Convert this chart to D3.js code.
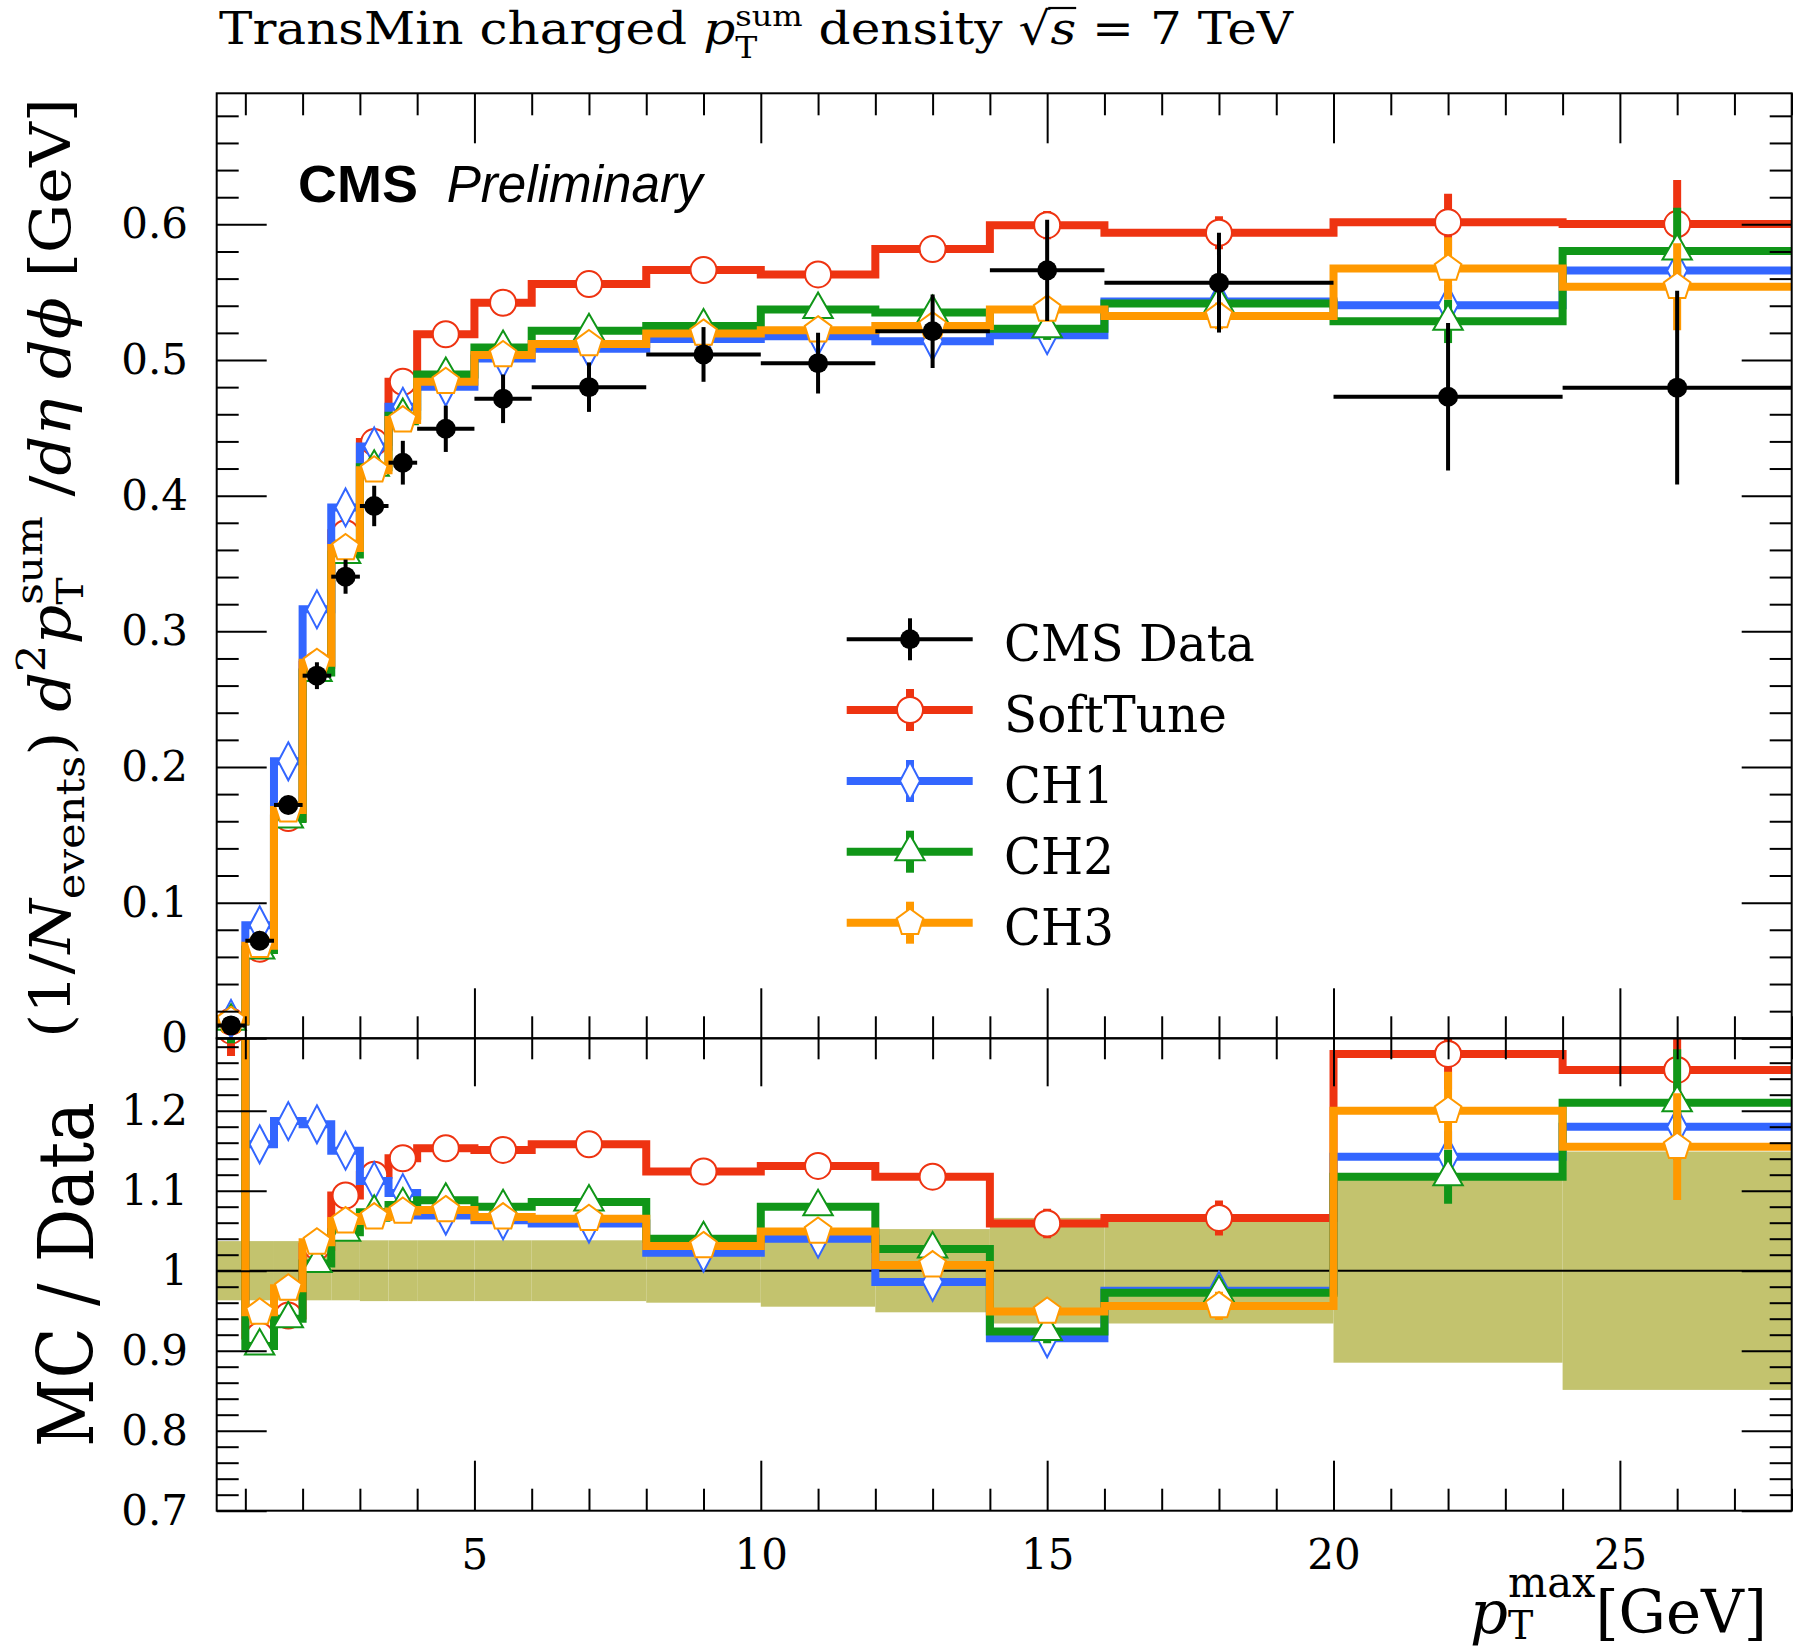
<!DOCTYPE html>
<html><head><meta charset="utf-8">
<script src="https://cdn.jsdelivr.net/npm/d3@7"></script>
<style>
html,body{margin:0;padding:0;background:#fff;}
svg{display:block;}
</style></head><body>
<svg id="chart" width="1793" height="1652"></svg>
<script>
// ---------------- DATA ----------------
const binEdges   = [0.5,1,1.5,2,2.5,3,3.5,4,5,6,8,10,12,14,16,20,24,28];
const binCenters = [0.75,1.25,1.75,2.25,2.75,3.25,3.75,4.5,5.5,7,9,11,13,15,18,22,26];

const dataValues = [0.0095,0.0719,0.172,0.2673,0.3403,0.3924,0.4243,0.4493,0.4714,0.4800,0.5041,0.4977,0.5212,0.5661,0.5570,0.4729,0.4796];
const dataRelErr = [0.037,0.037,0.037,0.037,0.037,0.038,0.038,0.038,0.038,0.038,0.040,0.045,0.052,0.066,0.066,0.115,0.149];

const softTuneValues = [0.01235,0.0660,0.1624,0.2753,0.3723,0.4395,0.4839,0.5190,0.5422,0.5560,0.5663,0.5631,0.5818,0.5994,0.5938,0.6015,0.6002];
const softTuneErr    = [0.0003,0.0008,0.0015,0.002,0.0025,0.003,0.003,0.0035,0.004,0.0035,0.004,0.0045,0.005,0.0104,0.0122,0.021,0.0324];
const softTuneRatio  = [1.30,0.919,0.944,1.03,1.094,1.120,1.1405,1.153,1.151,1.158,1.124,1.131,1.1175,1.059,1.066,1.271,1.251];

const ch1Values = [0.0143,0.0833,0.2042,0.3162,0.3913,0.4363,0.4655,0.4803,0.5011,0.5083,0.5154,0.5176,0.5139,0.5183,0.5431,0.5403,0.5659];
const ch1Err    = [0.0003,0.0008,0.0015,0.002,0.0025,0.003,0.003,0.0035,0.004,0.0035,0.004,0.0045,0.005,0.007,0.008,0.015,0.02];
const ch1Ratio  = [1.505,1.158,1.187,1.183,1.150,1.112,1.097,1.069,1.063,1.059,1.0225,1.040,0.986,0.9155,0.975,1.1425,1.180];

const ch2Values = [0.0125,0.0651,0.1617,0.2697,0.3566,0.4210,0.4590,0.4894,0.5093,0.5216,0.5250,0.5373,0.5351,0.5231,0.5417,0.5285,0.5803];
const ch2Err    = [0.0003,0.0008,0.0015,0.002,0.0025,0.003,0.003,0.0035,0.004,0.0035,0.004,0.0045,0.005,0.0083,0.009,0.016,0.032];
const ch2Ratio  = [1.316,0.906,0.940,1.009,1.048,1.073,1.082,1.088,1.080,1.086,1.040,1.080,1.027,0.924,0.9725,1.1175,1.210];

const ch3Values = [0.0130,0.0682,0.1682,0.2768,0.3614,0.4187,0.4557,0.4840,0.5037,0.5118,0.5196,0.5220,0.5250,0.5373,0.5325,0.5675,0.5540];
const ch3Err    = [0.0003,0.0008,0.0015,0.002,0.0025,0.003,0.003,0.0035,0.004,0.0035,0.004,0.0045,0.005,0.008,0.0098,0.023,0.032];
const ch3Ratio  = [1.368,0.948,0.978,1.0355,1.062,1.067,1.074,1.076,1.067,1.065,1.031,1.049,1.007,0.949,0.956,1.200,1.155];

const legendLabels = ["CMS Data","SoftTune","CH1","CH2","CH3"];

const yTicksMain = [0,0.1,0.2,0.3,0.4,0.5,0.6];
const yTickLabelsMain = ["0","0.1","0.2","0.3","0.4","0.5","0.6"];
const yTicksRatio = [0.7,0.8,0.9,1,1.1,1.2];
const yTickLabelsRatio = ["0.7","0.8","0.9","1","1.1","1.2"];
const xTicks = [5,10,15,20,25];
const xTickLabels = ["5","10","15","20","25"];

// ---------------- STYLE / LAYOUT ----------------
const W=1793, H=1652;
const L=216.7, R=1791.7, T=93.3, M=1038.3, B=1510.7;
const SERIF = "'DejaVu Serif','Liberation Serif',serif";
const SANS = "'Liberation Sans','DejaVu Sans',sans-serif";
const series = [
  {name:"SoftTune", vals:softTuneValues, errs:softTuneErr, ratio:softTuneRatio, color:"#ee3311", kind:"circle"},
  {name:"CH1", vals:ch1Values, errs:ch1Err, ratio:ch1Ratio, color:"#3366ff", kind:"diamond"},
  {name:"CH2", vals:ch2Values, errs:ch2Err, ratio:ch2Ratio, color:"#109618", kind:"triangle"},
  {name:"CH3", vals:ch3Values, errs:ch3Err, ratio:ch3Ratio, color:"#ff9900", kind:"pentagon"}
];
const bandColor = "rgb(195,195,110)";
const LINE_W = 8;

const svg = d3.select("#chart");
svg.append("rect").attr("width",W).attr("height",H).attr("fill","#fff");

const x  = d3.scaleLinear().domain([0.5,28]).range([L,R]);
const y  = d3.scaleLinear().domain([0,0.6966]).range([M,T]);
const yr = d3.scaleLinear().domain([0.7,1.2905]).range([B,M]);

const defs = svg.append("defs");
defs.append("clipPath").attr("id","clipMain").append("rect")
  .attr("x",L).attr("y",T).attr("width",R-L).attr("height",M-T);
defs.append("clipPath").attr("id","clipRatio").append("rect")
  .attr("x",L).attr("y",M).attr("width",R-L).attr("height",B-M);

const pentPts = d3.range(5).map(k=>{const a=(-90+72*k)*Math.PI/180; return [14*Math.cos(a),14*Math.sin(a)];});
function drawMarker(g, kind, cx, cy, color){
  let m;
  if(kind==="circle") m = g.append("circle").attr("r",13).attr("cx",cx).attr("cy",cy);
  else {
    let d;
    if(kind==="diamond") d="M0,-19L10,0L0,19L-10,0Z";
    else if(kind==="triangle") d="M0,-17L14.7,8.5L-14.7,8.5Z";
    else d="M"+pentPts.map(p=>p.join(",")).join("L")+"Z";
    m = g.append("path").attr("d",d).attr("transform",`translate(${cx},${cy})`);
  }
  m.attr("fill","#fff").attr("stroke",color).attr("stroke-width",2);
}

function stepPoints(vals){
  const pts = vals.map((v,i)=>[binEdges[i],v]);
  pts.push([binEdges[binEdges.length-1], vals[vals.length-1]]);
  return pts;
}

function drawSeries(parent, vals, errs, ys, color, kind){
  const g = parent.append("g");
  const line = d3.line().x(d=>x(d[0])).y(d=>ys(d[1])).curve(d3.curveStepAfter);
  g.append("path").attr("d",line(stepPoints(vals))).attr("fill","none")
    .attr("stroke",color).attr("stroke-width",LINE_W).attr("stroke-linejoin","miter");
  g.selectAll("line.err").data(vals).join("line")
    .attr("x1",(d,i)=>x(binCenters[i])).attr("x2",(d,i)=>x(binCenters[i]))
    .attr("y1",(d,i)=>ys(d-errs[i])).attr("y2",(d,i)=>ys(d+errs[i]))
    .attr("stroke",color).attr("stroke-width",LINE_W);
  vals.forEach((v,i)=>drawMarker(g,kind,x(binCenters[i]),ys(v),color));
}

// ---------------- RATIO PANEL ----------------
const gRatio = svg.append("g").attr("clip-path","url(#clipRatio)");
gRatio.selectAll("rect.band").data(dataRelErr).join("rect")
  .attr("x",(d,i)=>x(binEdges[i])).attr("width",(d,i)=>x(binEdges[i+1])-x(binEdges[i]))
  .attr("y",d=>yr(1+d)).attr("height",d=>yr(1-d)-yr(1+d))
  .attr("fill",bandColor);
gRatio.append("line").attr("x1",L).attr("x2",R).attr("y1",yr(1)).attr("y2",yr(1))
  .attr("stroke","#000").attr("stroke-width",2);
series.forEach(s=>{
  const rErr = s.errs.map((e,i)=>e/dataValues[i]);
  drawSeries(gRatio, s.ratio, rErr, yr, s.color, s.kind);
});

// ---------------- MAIN PANEL ----------------
const gMain = svg.append("g").attr("clip-path","url(#clipMain)");
series.forEach(s=>drawSeries(gMain, s.vals, s.errs, y, s.color, s.kind));
const gData = gMain.append("g");
dataValues.forEach((v,i)=>{
  const e = v*dataRelErr[i];
  gData.append("line").attr("x1",x(binEdges[i])).attr("x2",x(binEdges[i+1]))
    .attr("y1",y(v)).attr("y2",y(v)).attr("stroke","#000").attr("stroke-width",4);
  gData.append("line").attr("x1",x(binCenters[i])).attr("x2",x(binCenters[i]))
    .attr("y1",y(v-e)).attr("y2",y(v+e)).attr("stroke","#000").attr("stroke-width",4);
  gData.append("circle").attr("cx",x(binCenters[i])).attr("cy",y(v)).attr("r",10).attr("fill","#000");
});

// ---------------- AXES ----------------
const minorMain = d3.range(0.02,0.69,0.02).filter(v=>Math.abs(v*10-Math.round(v*10))>1e-6);
const minorRatio = d3.range(0.72,1.29,0.02).filter(v=>Math.abs(v*10-Math.round(v*10))>1e-6);
const minorX = d3.range(1,29,1).filter(v=>v%5!==0);

function addAxis(gen, tr, vals, size, fmt, pad){
  const g = svg.append("g").attr("transform",tr)
    .call(gen.tickValues(vals).tickSize(size).tickPadding(pad||0).tickFormat(fmt||(()=>"")));
  g.select(".domain").remove();
  g.selectAll("line").attr("stroke","#000").attr("stroke-width",2);
  g.attr("font-family",SERIF).attr("font-size",42);
  g.selectAll("text").attr("fill","#000");
  return g;
}
// main panel
addAxis(d3.axisLeft(y), `translate(${L},0)`, yTicksMain, -50, (d,i)=>yTickLabelsMain[i], 28.7);
addAxis(d3.axisLeft(y), `translate(${L},0)`, minorMain, -22);
addAxis(d3.axisRight(y), `translate(${R},0)`, yTicksMain, -50);
addAxis(d3.axisRight(y), `translate(${R},0)`, minorMain, -22);
addAxis(d3.axisTop(x), `translate(0,${T})`, xTicks, -50);
addAxis(d3.axisTop(x), `translate(0,${T})`, minorX, -22);
addAxis(d3.axisBottom(x), `translate(0,${M})`, xTicks, -50);
addAxis(d3.axisBottom(x), `translate(0,${M})`, minorX, -22);
// ratio panel
addAxis(d3.axisLeft(yr), `translate(${L},0)`, yTicksRatio, -50, (d,i)=>yTickLabelsRatio[i], 28.7);
addAxis(d3.axisLeft(yr), `translate(${L},0)`, minorRatio, -22);
addAxis(d3.axisRight(yr), `translate(${R},0)`, yTicksRatio, -50);
addAxis(d3.axisRight(yr), `translate(${R},0)`, minorRatio, -22);
addAxis(d3.axisTop(x), `translate(0,${M})`, xTicks, -48);
addAxis(d3.axisTop(x), `translate(0,${M})`, minorX, -21);
addAxis(d3.axisBottom(x), `translate(0,${B})`, xTicks, -50, (d,i)=>xTickLabels[i], 28.5);
addAxis(d3.axisBottom(x), `translate(0,${B})`, minorX, -22);

// frames
svg.append("rect").attr("x",L).attr("y",T).attr("width",R-L).attr("height",M-T)
  .attr("fill","none").attr("stroke","#000").attr("stroke-width",2);
svg.append("rect").attr("x",L).attr("y",M).attr("width",R-L).attr("height",B-M)
  .attr("fill","none").attr("stroke","#000").attr("stroke-width",2);

// ---------------- RICH TEXT ----------------
function layoutRuns(parent, runs, font){
  const g = parent.append("g");
  let cx = 0;
  runs.forEach(r=>{
    const items = r.stack || [r];
    let w = 0;
    items.forEach(s=>{
      const fs = s.size || font.size;
      const t = g.append("text").attr("x",cx).attr("y",s.dy||0)
        .attr("font-size",fs).attr("font-family",s.family||font.family)
        .attr("font-style",s.italic?"italic":"normal")
        .attr("font-weight",s.bold?"bold":"normal")
        .attr("fill","#000").style("white-space","pre").text(s.t);
      const tw = t.node().getComputedTextLength();
      if(s.overline){
        g.append("line").attr("x1",cx-2).attr("x2",cx+tw).attr("y1",-fs*0.80).attr("y2",-fs*0.80)
          .attr("stroke","#000").attr("stroke-width",2.2);
      }
      w = Math.max(w,tw);
    });
    cx += w;
  });
  return {g, width:cx};
}
function placeRuns(runs, font, tx, ty, targetW, rot){
  const outer = svg.append("g").attr("transform",`translate(${tx},${ty})`+(rot?` rotate(${rot})`:""));
  const {g,width} = layoutRuns(outer, runs, font);
  const sx = targetW ? targetW/width : 1;
  g.attr("transform",`scale(${sx},1)`);
  return sx;
}

// title
{
  const F=45;
  placeRuns([
    {t:"TransMin charged "},
    {t:"p", italic:true},
    {stack:[{t:"T", size:F*0.66, dy:F*0.30},{t:"sum", size:F*0.64, dy:-F*0.40}]},
    {t:" density "},
    {t:"\u221A"},
    {t:"s", italic:true, overline:true},
    {t:" = 7 TeV"}
  ], {size:F, family:SERIF}, 219, 44, 1074);
}
// y label main
{
  const F=56;
  placeRuns([
    {t:"(1/"},
    {t:"N", italic:true},
    {t:"events", size:F*0.7, dy:F*0.25},
    {t:") "},
    {t:"d", italic:true},
    {t:"2", size:F*0.7, dy:-F*0.45},
    {t:"p", italic:true},
    {stack:[{t:"T", size:F*0.66, dy:F*0.24},{t:"sum", size:F*0.68, dy:-F*0.5}]},
    {t:" /"},
    {t:"d\u03B7 d\u03D5", italic:true},
    {t:" [GeV]"}
  ], {size:F, family:SERIF}, 70, 1038, 940, -90);
}
// ratio y label
placeRuns([{t:"MC / Data"}], {size:76, family:SERIF}, 93, 1447, 345, -90);
// x label
{
  const F=60;
  placeRuns([
    {t:"p", italic:true},
    {stack:[{t:"T", size:F*0.64, dy:F*0.10},{t:"max", size:F*0.7, dy:-F*0.6}]},
    {t:"[GeV]"}
  ], {size:F, family:SERIF}, 1470, 1633, 297);
}
// CMS Preliminary
placeRuns([{t:"CMS", bold:true}], {size:52, family:SANS}, 298, 201.7, 120);
placeRuns([{t:"Preliminary", italic:true}], {size:52, family:SANS}, 446.7, 201.7, 256);

// ---------------- LEGEND ----------------
const legY = [639.3,710,781,851.7,922.7];
const legX1=846.7, legX2=972.7, legXM=910, legTX=1004;
const gLeg = svg.append("g");
gLeg.append("line").attr("x1",legX1).attr("x2",legX2).attr("y1",legY[0]).attr("y2",legY[0]).attr("stroke","#000").attr("stroke-width",4);
gLeg.append("line").attr("x1",legXM).attr("x2",legXM).attr("y1",legY[0]-21).attr("y2",legY[0]+21).attr("stroke","#000").attr("stroke-width",4);
gLeg.append("circle").attr("cx",legXM).attr("cy",legY[0]).attr("r",10).attr("fill","#000");
series.forEach((s,k)=>{
  const yy = legY[k+1];
  gLeg.append("line").attr("x1",legX1).attr("x2",legX2).attr("y1",yy).attr("y2",yy).attr("stroke",s.color).attr("stroke-width",LINE_W);
  gLeg.append("line").attr("x1",legXM).attr("x2",legXM).attr("y1",yy-21).attr("y2",yy+21).attr("stroke",s.color).attr("stroke-width",LINE_W);
  drawMarker(gLeg, s.kind, legXM, yy, s.color);
});
{
  const texts = legendLabels.map((lab,k)=>gLeg.append("text").attr("x",0).attr("y",0)
    .attr("font-family",SERIF).attr("font-size",50).attr("fill","#000").text(lab));
  const sx = 251/texts[0].node().getComputedTextLength();
  texts.forEach((t,k)=>t.attr("transform",`translate(${legTX},${legY[k]+22}) scale(${sx},1)`));
}
</script>
</body></html>
